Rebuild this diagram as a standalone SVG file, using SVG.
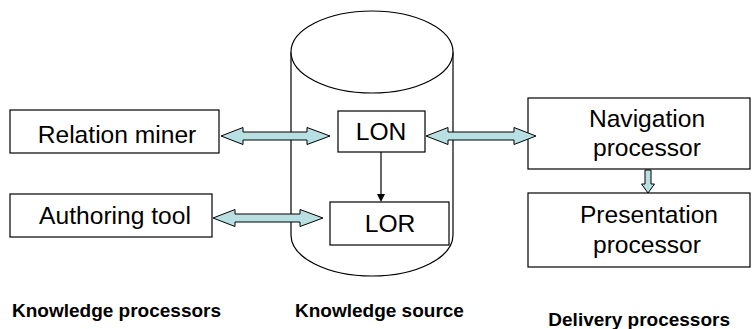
<svg xmlns="http://www.w3.org/2000/svg" width="755" height="329" viewBox="0 0 755 329">
<style>
.box{fill:#fff;stroke:#000;stroke-width:1.2}
.t{font-family:"Liberation Sans",Arial,sans-serif;font-size:24.6px;fill:#000;text-anchor:middle}
.b{font-family:"Liberation Sans",Arial,sans-serif;font-size:19px;font-weight:bold;fill:#000}
.ba{fill:#b8dfe2;stroke:#000;stroke-width:1}
</style>
<rect width="755" height="329" fill="#fff"/>
<g id="cylinder">
<path d="M291,52 L291,235 A81,41 0 0 0 453,235 L453,52" fill="#fff" stroke="#000" stroke-width="1.2"/>
<ellipse cx="372" cy="52" rx="81" ry="41" fill="#fff" stroke="#000" stroke-width="1.2"/>
</g>
<g id="relation-miner"><rect class="box" x="10" y="110" width="209" height="43"/><text class="t" x="117" y="143">Relation miner</text></g>
<g id="authoring-tool"><rect class="box" x="10" y="194" width="202" height="43"/><text class="t" x="115" y="224">Authoring tool</text></g>
<g id="navigation"><rect class="box" x="528" y="98" width="222" height="71"/><text class="t" x="647" y="127">Navigation</text><text class="t" x="647" y="156">processor</text></g>
<g id="presentation"><rect class="box" x="528" y="193" width="222" height="74"/><text class="t" x="649" y="223">Presentation</text><text class="t" x="647" y="253">processor</text></g>
<g id="connectors">
<path class="ba" d="M221,136 L243,127.5 L243,132 L307,132 L307,127.5 L330,136 L307,144.5 L307,140 L243,140 L243,144.5 Z"/>
<path class="ba" d="M213,218 L235,209.5 L235,214 L300,214 L300,209.5 L323,218 L300,226.5 L300,222 L235,222 L235,226.5 Z"/>
<path class="ba" d="M426,136 L448,127.5 L448,132 L514,132 L514,127.5 L536,136 L514,144.5 L514,140 L448,140 L448,144.5 Z"/>
<path class="ba" d="M645,170 L651,170 L651,184 L654.5,184 L648,193 L641.5,184 L645,184 Z"/>
<line x1="381" y1="152" x2="381" y2="195" stroke="#000" stroke-width="1.2"/>
<path d="M377,194 L385,194 L381,202 Z" fill="#000"/>
</g>
<g id="lon"><rect class="box" x="338" y="111" width="87" height="41"/><text class="t" x="381" y="140">LON</text></g>
<g id="lor"><rect class="box" x="330" y="202" width="119" height="43"/><text class="t" x="390" y="232">LOR</text></g>
<g id="labels">
<text class="b" x="12" y="317">Knowledge processors</text>
<text class="b" x="295" y="317">Knowledge source</text>
<text class="b" x="730" y="326" text-anchor="end">Delivery processors</text>
</g>
</svg>
